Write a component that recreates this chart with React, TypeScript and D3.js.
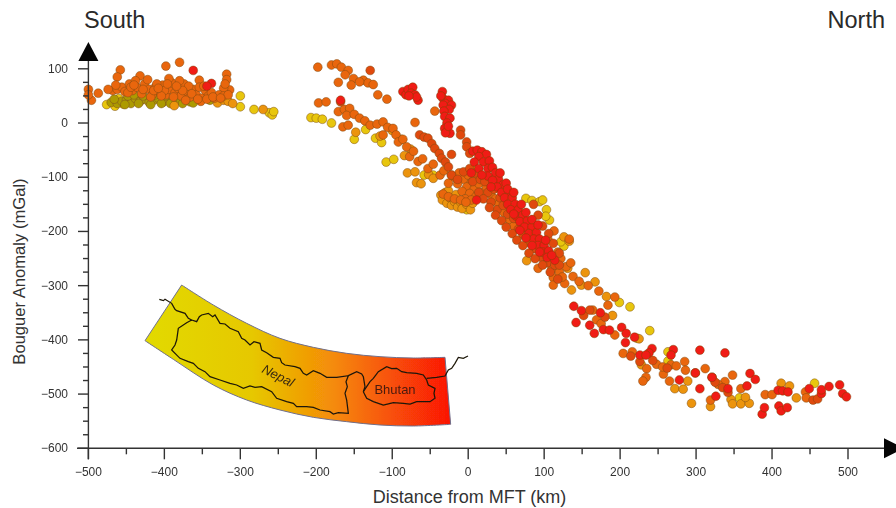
import React from "react";
import * as d3 from "d3";

type P = [number, number];

const xTicks = [-500, -400, -300, -200, -100, 0, 100, 200, 300, 400, 500];
const xMinor = [-450, -350, -250, -150, -50, 50, 150, 250, 350, 450];
const yTicks = [100, 0, -100, -200, -300, -400, -500, -600];
const yMinor = [75, 50, 25, -25, -50, -75, -125, -150, -175, -225, -250, -275, -325, -350, -375, -425, -450, -475, -525, -550, -575];

const yellowPts: P[] = [
  [-476,34],[-465,31],[-454,35],[-460,45],[-300,50],[-300,30],[-282,25],[-262,19],[-258,15],[-256,21],[-207,10],[-200,9],[-192,7],[-180,0],[-150,-30],[-108,-72],[-98,-67],
  [-135,-12],[-122,-28],[-114,-36],[-58,-96],[-46,-96],[6,-87],[-2,-160],[76,-139],[84,-143],[94,-145],[98,-142],[103,-160],[107,-179],[102,-172],[126,-227],[122,-219],[199,-331],[213,-339],[239,-383],[222,-397],[263,-422],[263,-439],[357,-507],[456,-480],
];

const oliveBand: P[] = [
  [-470,38],[-462,36],[-456,40],[-450,42],[-444,36],[-438,45],[-432,40],[-426,44],[-420,38],[-414,42],[-408,46],[-402,38],[-396,44],[-390,40],[-384,45],[-378,40],[-372,44],[-366,39],[-360,46],[-352,42],[-346,47],[-340,42],[-448,50],[-440,52],[-428,50],[-412,52],[-398,50],[-466,44],[-452,34],[-434,36],[-418,34],[-404,36],[-392,36],[-376,36],[-362,37],
];

const amberPts: P[] = [
  [-387,32],[-330,37],[-322,42],[-316,40],[-310,36],[-270,25],[-148,-17],[-116,-24],[-100,-14],[-88,-30],[-84,-60],[-80,-92],[-70,-90],[-68,-110],[-62,-112],[-76,-48],[-52,-95],[-46,-102],
  [-36,-133],[-34,-142],[-30,-128],[-28,-148],[-24,-138],[-22,-152],[-18,-145],[-14,-155],[-10,-146],[-8,-158],[-2,-150],[3,-160],[6,-148],[-26,-125],[-16,-132],
  [77,-254],[126,-210],[133,-218],[154,-276],[167,-293],[149,-299],[136,-308],[182,-320],[190,-355],[131,-268],[294,-517],[319,-523],[346,-510],[348,-518],[359,-518],[370,-517],[365,-506],[225,-398],[228,-446],[272,-490],[283,-491],[289,-476],[412,-480],[423,-485],[432,-507],
];

const orangePts: P[] = [
  [-500,62],[-487,55],[-496,42],[-500,52],[-458,98],[-462,85],[-398,105],[-380,112],[-432,87],[-318,90],[-318,80],[-354,79],[-314,61],[-322,64],
  [-468,60],[-462,62],[-456,66],[-452,58],[-446,72],[-442,60],[-436,66],[-430,54],[-426,72],[-420,62],[-416,52],[-412,66],[-406,58],[-402,70],[-398,52],[-394,62],[-390,74],[-386,56],[-382,64],[-378,50],[-374,72],[-370,58],[-366,48],[-362,62],[-358,52],[-354,66],[-350,46],[-346,60],[-342,50],[-338,56],[-334,46],[-328,52],[-322,50],[-316,52],[-464,70],[-448,56],[-438,78],[-422,80],[-410,72],[-394,82],[-380,78],[-368,68],[-352,40],[-372,42],[-400,60],[-418,48],
  [-474,62],[-444,66],[-428,62],[-414,60],[-404,50],[-388,48],[-376,60],[-364,54],[-356,44],[-344,44],[-336,48],[-326,46],[-320,72],[-348,68],[-440,70],[-408,64],[-384,68],[-396,72],
  [-198,103],[-180,107],[-173,109],[-167,103],[-158,97],[-171,75],[-151,82],[-154,70],[-138,79],[-132,74],[-125,71],[-119,52],[-107,44],[-143,76],[-162,89],[-197,37],[-187,39],[-44,22],[-70,1],
  [-171,21],[-163,25],[-156,27],[-165,-7],[-158,-4],[-160,14],[-150,16],[-143,9],[-136,4],[-129,-4],[-120,-2],[-112,2],[-106,-8],[-112,-22],[-99,-10],[-95,-22],[-92,-35],[-86,-30],[-81,-44],[-77,-62],[-72,-52],[-66,-71],[-60,-66],[-53,-84],[-46,-76],[-37,-96],[-32,-88],[-26,-111],
  [-18,-100],[-12,-92],[-6,-104],[0,-96],[4,-110],[10,-100],[-14,-112],[-2,-118],[8,-122],[14,-112],[-22,-96],[18,-128],[24,-118],[30,-132],[36,-140],
  [-8,-126],[2,-130],[10,-136],[-4,-140],[4,-142],[-33,-131],[-26,-136],[-18,-140],[-10,-142],[-3,-146],
  [113,-199],[133,-214],[92,-268],[40,-150],[47,-165],[54,-178],[60,-190],[105,-215],[118,-238],[122,-250],[110,-270],[112,-285],[112,-299],[127,-296],[138,-283],[120,-275],[129,-265],[135,-258],[124,-284],[146,-292],[158,-300],[172,-310],[184,-336],[193,-321],
  [164,-345],[169,-363],[175,-370],[193,-391],[204,-425],[216,-422],[235,-453],[234,-469],[230,-476],[248,-445],[257,-463],[256,-450],[267,-446],[274,-448],[285,-440],[286,-456],[265,-476],[312,-453],[348,-465],[338,-477],[329,-482],[319,-511],[359,-490],[391,-501],[400,-501],[444,-496],[445,-507],
];

const deepOrangePts: P[] = [
  [-129,97],[-168,39],[-64,-22],[-58,-26],[-53,-28],[-48,-38],[-44,-47],[-38,-56],[-35,-65],[-30,-72],[-26,-81],[-22,-96],[-10,-13],[-10,-22],[-22,-58],[-2,-35],[-2,-44],[2,-56],
  [-14,-104],[-6,-90],[2,-84],[10,-92],[6,-108],[16,-104],[14,-128],[22,-108],[26,-128],[34,-122],[20,-140],[30,-146],[42,-138],[38,-160],[46,-152],[52,-168],[60,-176],[66,-196],[72,-206],[80,-220],[88,-232],[96,-248],[104,-258],[108,-275],[114,-262],[118,-288],[120,-262],
  [28,-156],[36,-170],[44,-180],[50,-192],[58,-204],[64,-216],[72,-226],[80,-240],[88,-250],[98,-262],[86,-150],[92,-170],[98,-190],[106,-204],[112,-222],[120,-240],
  [152,-355],[160,-345],[180,-358],[214,-430],[226,-440],[243,-438],[262,-452],[299,-461],[321,-469],[325,-478],[335,-488],[454,-511],[460,-509],[342,-497],
];

const redPts: P[] = [
  [-362,97],[-338,73],[-344,68],[-168,42],[-86,58],[-82,52],[-79,62],[-73,66],[-75,55],[-70,52],[-66,42],[-68,48],[-78,50],
  [-34,58],[-33,45],[-36,50],[-26,42],[-30,36],[-22,33],[-33,33],[-25,25],[-32,22],[-31,12],[-24,9],[-28,0],[-31,-10],[-24,-19],[-30,-18],[-26,-6],
  [6,-52],[12,-50],[18,-53],[24,-58],[14,-62],[8,-72],[20,-72],[28,-70],[14,-84],[26,-84],[32,-82],[36,-92],[26,-98],[40,-104],[32,-106],[46,-114],[38,-118],[50,-111],[44,-128],[54,-128],[48,-138],[58,-138],[52,-150],[62,-150],[56,-160],[66,-160],[63,-172],[72,-170],[68,-182],[78,-180],[74,-192],[84,-192],[80,-204],[90,-202],[86,-214],[94,-214],[92,-226],[100,-226],[98,-238],[106,-236],[104,-248],[114,-253],[110,-244],[4,-92],[11,-142],
  [18,-96],[30,-118],[42,-92],[52,-122],[60,-128],[70,-150],[76,-165],[84,-178],[92,-188],[60,-168],[68,-198],[76,-212],[84,-226],[94,-238],[102,-216],
  [139,-338],[149,-346],[142,-368],[160,-373],[166,-388],[174,-350],[178,-381],[186,-382],[202,-377],[208,-388],[207,-405],[219,-395],[242,-416],[238,-424],[226,-428],[234,-428],[270,-418],[267,-428],[305,-419],[338,-424],[278,-474],[305,-490],[299,-461],[321,-469],[342,-490],[326,-504],[371,-462],[378,-473],[367,-485],[387,-537],[390,-525],[409,-522],[412,-531],[420,-525],[408,-493],[414,-494],[421,-496],[449,-490],[465,-499],[465,-492],[489,-483],[475,-486],[493,-499],[498,-505],
];

const mapTop: P[] = [[155,45],[250,105],[350,160],[450,205],[550,232],[650,250],[750,260],[850,264],[945,262]];
const mapBottom: P[] = [[962,463],[850,468],[750,465],[650,455],[550,442],[450,420],[350,390],[250,345],[130,268],[45,212]];
const nepalLine: P[] = [[185,150],[200,155],[208,140],[215,135],[235,130],[248,140],[255,135],[270,160],[285,162],[300,175],[325,185],[335,205],[345,210],[360,225],[372,215],[390,220],[395,240],[410,248],[430,262],[450,265],[455,278],[465,285],[495,290],[510,295],[520,310],[530,315],[550,302],[570,310],[590,322],[620,322],[655,317],[648,335],[652,350],[645,370],[650,390],[655,430],[625,428],[610,432],[600,425],[570,420],[550,412],[530,410],[500,410],[490,400],[470,395],[440,385],[425,365],[395,350],[375,352],[360,348],[340,355],[320,345],[300,340],[270,330],[240,320],[225,305],[205,295],[190,280],[175,275],[150,265],[125,240],[135,225],[140,210],[145,175],[170,158],[185,150]];
const westBorder: P[] = [[88,88],[100,92],[105,88],[125,100],[135,118],[140,122],[165,130],[175,145],[185,150]];
const linkBorder: P[] = [[655,317],[680,305],[695,312],[700,320],[705,350],[700,365]];
const bhutanLine: P[] = [[700,365],[720,335],[730,325],[745,305],[770,290],[785,296],[800,295],[815,305],[830,308],[860,310],[880,315],[890,330],[895,345],[915,355],[912,370],[915,385],[900,395],[860,395],[840,402],[820,400],[790,398],[760,405],[730,395],[710,385],[700,365]];
const eastBorder: P[] = [[890,325],[920,322],[945,318],[955,300],[965,295],[975,280],[985,262],[1000,265],[1014,258]];

const groups: { pts: P[]; fill: string }[] = [
  { pts: yellowPts, fill: "#e8c60e" },
  { pts: oliveBand, fill: "#ad9a06" },
  { pts: amberPts, fill: "#ec940f" },
  { pts: orangePts, fill: "#e9660f" },
  { pts: deepOrangePts, fill: "#e0480e" },
  { pts: redPts, fill: "#f01a12" },
];

const W = 896, H = 508;
const x = d3.scaleLinear().domain([-500, 500]).range([88.4, 848]);
const y = d3.scaleLinear().domain([100, -600]).range([68.8, 448.3]);
const mx = d3.scaleLinear().domain([0, 1050]).range([130, 480]);
const my = d3.scaleLinear().domain([0, 510]).range([270, 440]);
const border = d3.line<P>().x(d => mx(d[0])).y(d => my(d[1])).curve(d3.curveLinear);
const bandEdge = d3.line<P>().x(d => mx(d[0])).y(d => my(d[1])).curve(d3.curveCatmullRom);
const bandPath = () => {
  const a = bandEdge(mapTop) as string;
  const b = (bandEdge(mapBottom) as string).replace(/^M/, "L");
  return a + b + "Z";
};
const sans = "'Liberation Sans', Arial, sans-serif";
const ink = "#333";
const fmt = (v: number) => (v < 0 ? "\u2212" + Math.abs(v) : String(v));

export default function App() {
  const x0 = x(-500), y0 = y(-600);
  return (
    <svg width={W} height={H} viewBox={`0 0 ${W} ${H}`} style={{ position: "absolute", left: 0, top: 0, background: "#fff" }}>
      <defs>
        <linearGradient id="band" x1="0" x2="1" y1="0" y2="0">
          <stop offset="0" stopColor="#e2da00" />
          <stop offset="0.35" stopColor="#e6c800" />
          <stop offset="0.62" stopColor="#f58a08" />
          <stop offset="1" stopColor="#fb1406" />
        </linearGradient>
        <filter id="soft" x="-5%" y="-5%" width="110%" height="110%">
          <feGaussianBlur stdDeviation="0.5" />
        </filter>
      </defs>

      <g filter="url(#soft)">
        <path d={bandPath()} fill="url(#band)" stroke="#6f6f8c" strokeWidth={1} />
        <g fill="none" stroke="#1e1808" strokeWidth={1.25}>
          <path d={border(nepalLine) as string} />
          <path d={border(westBorder) as string} />
          <path d={border(linkBorder) as string} />
          <path d={border(bhutanLine) as string} />
          <path d={border(eastBorder) as string} />
        </g>
        <text x={mx(442)} y={my(330)} fontFamily={sans} fontSize={13} fontStyle="italic" fill="#3a2a10" textAnchor="middle" transform={`rotate(27 ${mx(442)} ${my(322)})`}>Nepal</text>
        <text x={mx(795)} y={my(372)} fontFamily={sans} fontSize={13} fill="#4a1a10" textAnchor="middle">Bhutan</text>
      </g>

      <g filter="url(#soft)">
        {groups.map((g, i) => (
          <g key={i} fill={g.fill} stroke="#7a4a10" strokeOpacity={0.6} strokeWidth={0.8}>
            {g.pts.map((d, j) => <circle key={j} cx={x(d[0])} cy={y(d[1])} r={4.4} />)}
          </g>
        ))}
      </g>

      <g stroke={ink} strokeWidth={1.4} fill="none">
        <line x1={x0} x2={x0} y1={58} y2={y0 + 11} />
        <line x1={77} x2={W} y1={y0} y2={y0} />
        {yTicks.map(v => <line key={v} x1={78} x2={x0} y1={y(v)} y2={y(v)} />)}
        {yMinor.map(v => <line key={v} x1={83} x2={x0} y1={y(v)} y2={y(v)} />)}
        {xTicks.map(v => <line key={v} x1={x(v)} x2={x(v)} y1={y0} y2={y0 + 11} />)}
        {xMinor.map(v => <line key={v} x1={x(v)} x2={x(v)} y1={y0} y2={y0 + 6} />)}
      </g>
      <path d={`M${x0},42 L${x0 + 10},61 L${x0 - 10},61 Z`} fill="#050505" />
      <path d={`M884,${y0 - 10} L904,${y0} L884,${y0 + 10} Z`} fill="#050505" />

      <g fontFamily={sans} fontSize={12} fill={ink} filter="url(#soft)">
        {yTicks.map(v => <text key={v} x={68} y={y(v) + 4} textAnchor="end">{fmt(v)}</text>)}
        {xTicks.map(v => <text key={v} x={x(v)} y={476} textAnchor="middle">{fmt(v)}</text>)}
      </g>
      <g fontFamily={sans} fill="#2a2a2a">
        <text x={84} y={28} fontSize={23.5}>South</text>
        <text x={885} y={28} fontSize={23.5} textAnchor="end">North</text>
        <text x={469.5} y={503} fontSize={18} textAnchor="middle" fill={ink}>Distance from MFT (km)</text>
        <text transform="translate(25,271.5) rotate(-90)" fontSize={16.6} textAnchor="middle" fill={ink}>Bouguer Anomaly (mGal)</text>
      </g>
    </svg>
  );
}
